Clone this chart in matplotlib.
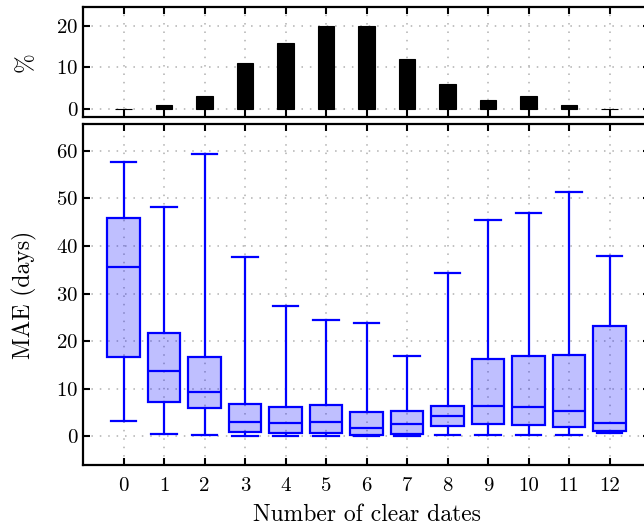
import matplotlib
matplotlib.use("Agg")
import matplotlib.pyplot as plt
import numpy as np

plt.rcParams['font.family'] = 'serif'
plt.rcParams['font.serif'] = ['cmr10', 'DejaVu Serif']
plt.rcParams['mathtext.fontset'] = 'cm'
plt.rcParams['axes.formatter.use_mathtext'] = True
plt.rcParams['font.size'] = 15

categories = list(range(13))
pct = [0, 1, 3, 11, 16, 20, 20, 12, 6, 2, 3, 1, 0]

whislo = [3.2, 0.6, 0.4, 0.1, 0.1, 0.1, 0.05, 0.1, 0.2, 0.2, 0.2, 0.2, 0.7]
q1     = [16.6, 7.3, 6.0, 0.9, 0.8, 0.8, 0.4, 0.6, 2.2, 2.6, 2.4, 1.9, 1.1]
med    = [35.5, 13.8, 9.4, 3.1, 2.8, 3.1, 1.8, 2.6, 4.3, 6.4, 6.1, 5.3, 2.9]
q3     = [45.8, 21.8, 16.6, 6.9, 6.2, 6.6, 5.1, 5.4, 6.3, 16.3, 16.8, 17.2, 23.2]
whishi = [57.7, 48.2, 59.2, 37.6, 27.3, 24.5, 23.8, 16.9, 34.3, 45.4, 46.9, 51.3, 37.8]

fig = plt.figure(figsize=(6.44, 5.27), dpi=100)
W, H = 644, 527
left = 83 / W
right = 650 / W
ax1 = fig.add_axes([left, 1 - 117 / H, right - left, (117 - 7) / H])
ax2 = fig.add_axes([left, 1 - 465 / H, right - left, (465 - 124) / H])

for ax in (ax1, ax2):
    ax.grid(True, color='#b0b0b0', linestyle=(0, (1, 4.5)), linewidth=1.1)
    ax.set_axisbelow(True)
    ax.tick_params(direction='in', top=True, right=True, length=5, width=1.5, labelsize=15)
    for s in ax.spines.values():
        s.set_linewidth(1.6)
    ax.set_xlim(-1, 13)
    ax.set_xticks(categories)

ax1.bar(categories, pct, width=0.4, color='black', edgecolor='black', linewidth=0.8, zorder=3)
ax1.set_ylim(-2, 24.6)
ax1.set_yticks([0, 10, 20])
ax1.set_xticklabels([])
ax1.set_ylabel('%', fontsize=17, labelpad=14)

stats = []
for i in range(13):
    stats.append(dict(whislo=whislo[i], q1=q1[i], med=med[i], q3=q3[i], whishi=whishi[i], fliers=[]))
ax2.bxp(stats, positions=categories, widths=0.8, patch_artist=True, showfliers=False,
        boxprops=dict(facecolor=(0, 0, 1, 0.25), edgecolor='blue', linewidth=1.6),
        medianprops=dict(color='blue', linewidth=1.6),
        whiskerprops=dict(color='blue', linewidth=1.6),
        capprops=dict(color='blue', linewidth=1.6),
        capwidths=0.62, zorder=3)
ax2.set_xlim(-1, 13)
ax2.set_xticks(categories)
ax2.set_xticklabels([str(c) for c in categories])
ax2.set_ylim(-6, 65.6)
ax2.set_yticks([0, 10, 20, 30, 40, 50, 60])
ax2.set_ylabel('MAE (days)', fontsize=17, labelpad=14)
ax2.set_xlabel('Number of clear dates', fontsize=17, labelpad=6)
ax2.tick_params(axis='x', pad=9)

fig.align_ylabels([ax1, ax2])
fig.savefig('out.png', dpi=100)
